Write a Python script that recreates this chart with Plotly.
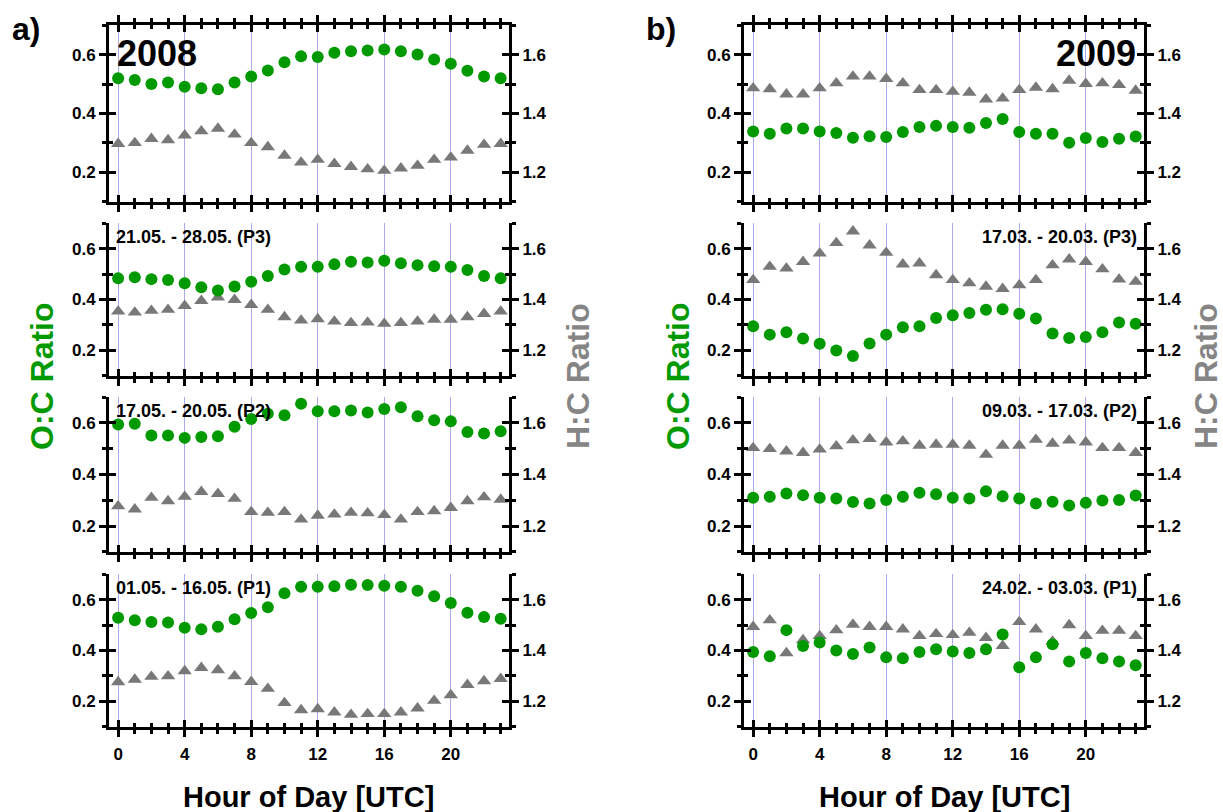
import plotly.graph_objects as go

# Hour of day (UTC) for every panel
hours = list(range(24))

# ---- 2008 (column a) ----
oc_2008_all = [0.520, 0.514, 0.500, 0.505, 0.491, 0.486, 0.482, 0.505, 0.526, 0.546, 0.574, 0.594,
               0.592, 0.606, 0.611, 0.614, 0.617, 0.611, 0.600, 0.583, 0.569, 0.545, 0.526, 0.520]
hc_2008_all = [1.297, 1.300, 1.314, 1.310, 1.326, 1.340, 1.349, 1.329, 1.300, 1.286, 1.257, 1.234,
               1.243, 1.229, 1.219, 1.211, 1.206, 1.214, 1.223, 1.243, 1.251, 1.274, 1.294, 1.297]

oc_2008_p3 = [0.483, 0.487, 0.480, 0.477, 0.464, 0.448, 0.435, 0.451, 0.470, 0.492, 0.518, 0.529,
              0.529, 0.538, 0.548, 0.545, 0.552, 0.542, 0.535, 0.531, 0.529, 0.516, 0.492, 0.483]
hc_2008_p3 = [1.353, 1.349, 1.356, 1.360, 1.375, 1.395, 1.408, 1.399, 1.379, 1.360, 1.331, 1.318,
              1.323, 1.314, 1.308, 1.310, 1.305, 1.308, 1.314, 1.321, 1.321, 1.331, 1.344, 1.353]

oc_2008_p2 = [0.594, 0.597, 0.551, 0.551, 0.542, 0.545, 0.548, 0.585, 0.615, 0.636, 0.630, 0.674,
              0.645, 0.645, 0.648, 0.640, 0.654, 0.661, 0.626, 0.610, 0.606, 0.565, 0.559, 0.568]
hc_2008_p2 = [1.277, 1.265, 1.310, 1.297, 1.314, 1.333, 1.325, 1.306, 1.255, 1.252, 1.255, 1.226,
              1.241, 1.245, 1.252, 1.250, 1.243, 1.226, 1.255, 1.258, 1.271, 1.297, 1.312, 1.303]

oc_2008_p1 = [0.529, 0.519, 0.512, 0.510, 0.489, 0.483, 0.493, 0.523, 0.547, 0.570, 0.625, 0.650,
              0.650, 0.652, 0.658, 0.657, 0.654, 0.650, 0.635, 0.613, 0.587, 0.548, 0.532, 0.525]
hc_2008_p1 = [1.276, 1.286, 1.297, 1.299, 1.319, 1.332, 1.323, 1.299, 1.277, 1.250, 1.194, 1.166,
              1.170, 1.157, 1.148, 1.151, 1.151, 1.157, 1.173, 1.203, 1.225, 1.265, 1.280, 1.289]

# ---- 2009 (column b) ----
oc_2009_all = [0.339, 0.331, 0.349, 0.349, 0.339, 0.334, 0.318, 0.323, 0.320, 0.337, 0.354, 0.358,
               0.354, 0.352, 0.368, 0.381, 0.337, 0.331, 0.331, 0.301, 0.317, 0.303, 0.314, 0.322]
hc_2009_all = [1.486, 1.483, 1.465, 1.465, 1.486, 1.503, 1.526, 1.526, 1.518, 1.503, 1.480, 1.480,
               1.474, 1.471, 1.448, 1.451, 1.480, 1.488, 1.483, 1.512, 1.501, 1.503, 1.497, 1.478]

oc_2009_p3 = [0.295, 0.262, 0.271, 0.247, 0.226, 0.200, 0.178, 0.227, 0.262, 0.291, 0.295, 0.327,
              0.338, 0.347, 0.360, 0.362, 0.344, 0.325, 0.266, 0.249, 0.253, 0.271, 0.310, 0.305]
hc_2009_p3 = [1.477, 1.529, 1.522, 1.548, 1.581, 1.622, 1.668, 1.613, 1.584, 1.538, 1.542, 1.496,
              1.477, 1.464, 1.451, 1.442, 1.456, 1.477, 1.535, 1.558, 1.548, 1.519, 1.479, 1.470]

oc_2009_p2 = [0.310, 0.314, 0.326, 0.320, 0.310, 0.307, 0.293, 0.288, 0.301, 0.314, 0.329, 0.323,
              0.310, 0.307, 0.335, 0.316, 0.307, 0.288, 0.294, 0.280, 0.290, 0.299, 0.301, 0.319]
hc_2009_p2 = [1.503, 1.499, 1.490, 1.484, 1.497, 1.510, 1.533, 1.538, 1.525, 1.529, 1.512, 1.516,
              1.516, 1.512, 1.477, 1.512, 1.512, 1.535, 1.520, 1.532, 1.525, 1.503, 1.503, 1.484]

oc_2009_p1 = [0.394, 0.377, 0.480, 0.418, 0.431, 0.400, 0.386, 0.412, 0.373, 0.370, 0.394, 0.405,
              0.396, 0.390, 0.405, 0.463, 0.334, 0.373, 0.425, 0.357, 0.390, 0.370, 0.357, 0.342]
hc_2009_p1 = [1.493, 1.519, 1.390, 1.441, 1.457, 1.480, 1.502, 1.493, 1.493, 1.483, 1.457, 1.465,
              1.461, 1.470, 1.450, 1.418, 1.512, 1.483, 1.435, 1.500, 1.457, 1.478, 1.478, 1.457]

# Panel captions (top to bottom)
captions_2008 = ["2008", "21.05. - 28.05. (P3)", "17.05. - 20.05. (P2)", "01.05. - 16.05. (P1)"]
captions_2009 = ["2009", "17.03. - 20.03. (P3)", "09.03. - 17.03. (P2)", "24.02. - 03.03. (P1)"]

oc_columns = [[oc_2008_all, oc_2008_p3, oc_2008_p2, oc_2008_p1],
              [oc_2009_all, oc_2009_p3, oc_2009_p2, oc_2009_p1]]
hc_columns = [[hc_2008_all, hc_2008_p3, hc_2008_p2, hc_2008_p1],
              [hc_2009_all, hc_2009_p3, hc_2009_p2, hc_2009_p1]]
captions = [captions_2008, captions_2009]

# ---- styling ----
W, H = 1223, 812
FONT = "Liberation Sans, Arial, sans-serif"
GREEN = "#009900"
GREY = "#787878"
GREY_TITLE = "#858585"
GRID = "rgb(170,170,238)"
TICKFONT = dict(family=FONT, size=17, color="black", weight="bold")
XR = [-0.55, 23.5]
OC_R = [0.0995, 0.7005]
HC_R = [1.0995, 1.7005]
LW = 3
TW = 2.5
MAJ, MIN = 7, 4

col_px = [(109, 509), (744, 1144)]
row_px = [(25, 202), (223, 376), (397, 552), (574, 727)]


def xdom(c):
    a, b = col_px[c]
    return [a / W, b / W]


def ydom(r):
    t, b = row_px[r]
    return [1 - b / H, 1 - t / H]


fig = go.Figure()
layout = {}

for p in range(8):
    col, row = divmod(p, 4)
    xb, xo = p + 1, p + 9
    yh, yho, yo, yoo = p + 1, p + 9, p + 17, p + 25
    mirror = "ticks" if row == 0 else False
    bottom = row == 3

    xcommon = dict(domain=xdom(col), range=XR, tick0=0, dtick=4, zeroline=False,
                   ticklen=MAJ, tickwidth=TW, tickcolor="black",
                   showline=True, linecolor="black", linewidth=LW, mirror=mirror)
    layout[f"xaxis{xb}"] = dict(
        xcommon, anchor=f"y{yh}", ticks="outside",
        minor=dict(dtick=1, tick0=0, ticks="outside", ticklen=MIN, tickwidth=TW, tickcolor="black"),
        showgrid=True, gridcolor=GRID, gridwidth=1,
        showticklabels=bottom, tickfont=TICKFONT, ticklabelstandoff=3)
    layout[f"xaxis{xo}"] = dict(
        xcommon, anchor=f"y{yh}", overlaying=f"x{xb}", ticks="inside",
        minor=dict(dtick=1, tick0=0, ticks="inside", ticklen=MIN, tickwidth=TW, tickcolor="black"),
        showgrid=False, showticklabels=False)

    ycommon = dict(domain=ydom(row), anchor=f"x{xb}", zeroline=False, showgrid=False,
                   dtick=0.2, ticklen=MAJ, tickwidth=TW, tickcolor="black",
                   showline=True, linecolor="black", linewidth=LW, tickformat=".1f")
    # H:C axis on the right (base of the panel)
    layout[f"yaxis{yh}"] = dict(
        ycommon, side="right", range=HC_R, tick0=1.2, ticks="outside",
        minor=dict(dtick=0.1, tick0=1.1, ticks="outside", ticklen=MIN, tickwidth=TW, tickcolor="black"),
        tickfont=TICKFONT)
    layout[f"yaxis{yho}"] = dict(
        ycommon, side="right", range=HC_R, tick0=1.2, overlaying=f"y{yh}", ticks="inside",
        minor=dict(dtick=0.1, tick0=1.1, ticks="inside", ticklen=MIN, tickwidth=TW, tickcolor="black"),
        showticklabels=False)
    # O:C axis on the left
    layout[f"yaxis{yo}"] = dict(
        ycommon, side="left", range=OC_R, tick0=0.2, overlaying=f"y{yh}", ticks="outside",
        minor=dict(dtick=0.1, tick0=0.1, ticks="outside", ticklen=MIN, tickwidth=TW, tickcolor="black"),
        tickfont=TICKFONT)
    layout[f"yaxis{yoo}"] = dict(
        ycommon, side="left", range=OC_R, tick0=0.2, overlaying=f"y{yh}", ticks="inside",
        minor=dict(dtick=0.1, tick0=0.1, ticks="inside", ticklen=MIN, tickwidth=TW, tickcolor="black"),
        showticklabels=False)

    # empty traces so every tick overlay subplot is created
    for xa, ya in [(f"x{xo}", f"y{yh}"), (f"x{xb}", f"y{yho}"), (f"x{xb}", f"y{yoo}")]:
        fig.add_trace(go.Scatter(x=[], y=[], xaxis=xa, yaxis=ya, showlegend=False, hoverinfo="skip"))

    # H:C (grey triangles) underneath, O:C (green circles) on top
    fig.add_trace(go.Scatter(
        x=hours, y=hc_columns[col][row], mode="markers", xaxis=f"x{xb}", yaxis=f"y{yh}",
        marker=dict(symbol="triangle-up", size=12.5, color=GREY, line=dict(width=0)),
        showlegend=False, name="H:C"))
    fig.add_trace(go.Scatter(
        x=hours, y=oc_columns[col][row], mode="markers", xaxis=f"x{xb}", yaxis=f"y{yo}",
        marker=dict(symbol="circle", size=12, color=GREEN, line=dict(width=0)),
        showlegend=False, name="O:C"))

annotations = []


def bold(size, color="black"):
    return dict(family=FONT, size=size, color=color, weight="bold")


for col in range(2):
    for row in range(4):
        p = col * 4 + row
        text = captions[col][row]
        if row == 0:
            if col == 0:
                annotations.append(dict(text=text, x=-0.2, y=0.604, xref=f"x{p+1}", yref=f"y{p+17}",
                                        xanchor="left", yanchor="middle", showarrow=False, font=bold(36)))
            else:
                annotations.append(dict(text=text, x=23.12, y=0.604, xref=f"x{p+1}", yref=f"y{p+17}",
                                        xanchor="right", yanchor="middle", showarrow=False, font=bold(36)))
        else:
            if col == 0:
                annotations.append(dict(text=text, x=-0.25, y=0.645, xref=f"x{p+1}", yref=f"y{p+17}",
                                        xanchor="left", yanchor="middle", showarrow=False, font=bold(18)))
            else:
                annotations.append(dict(text=text, x=23.2, y=0.645, xref=f"x{p+1}", yref=f"y{p+17}",
                                        xanchor="right", yanchor="middle", showarrow=False, font=bold(18)))

# panel letters
annotations.append(dict(text="a)", x=10 / W, y=1 - 29 / H, xref="paper", yref="paper",
                        xanchor="left", yanchor="middle", showarrow=False, font=bold(32)))
annotations.append(dict(text="b)", x=644 / W, y=1 - 29 / H, xref="paper", yref="paper",
                        xanchor="left", yanchor="middle", showarrow=False, font=bold(32)))

# axis titles
for cx in (309, 944):
    annotations.append(dict(text="Hour of Day [UTC]", x=cx / W, y=1 - 797 / H, xref="paper", yref="paper",
                            xanchor="center", yanchor="middle", showarrow=False, font=bold(29)))
for lx, rx in ((42, 578), (678, 1206)):
    annotations.append(dict(text="O:C Ratio", x=lx / W, y=1 - 376 / H, xref="paper", yref="paper",
                            xanchor="center", yanchor="middle", textangle=-90, showarrow=False,
                            font=bold(32, GREEN)))
    annotations.append(dict(text="H:C Ratio", x=rx / W, y=1 - 376 / H, xref="paper", yref="paper",
                            xanchor="center", yanchor="middle", textangle=-90, showarrow=False,
                            font=bold(32, GREY_TITLE)))

fig.update_layout(
    width=W, height=H, margin=dict(l=0, r=0, t=0, b=0),
    paper_bgcolor="white", plot_bgcolor="white",
    showlegend=False, annotations=annotations, font=dict(family=FONT),
    **layout)

fig.write_html("out.html")
